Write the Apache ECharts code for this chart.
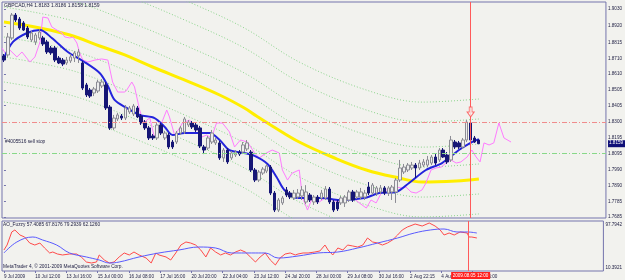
<!DOCTYPE html>
<html><head><meta charset="utf-8">
<script src="https://cdn.jsdelivr.net/npm/echarts@6/dist/echarts.min.js"></script>
<style>html,body{margin:0;padding:0;background:#f2f2ee}#c{width:625px;height:280px}</style>
</head><body><div id="c"></div>
<script>
// ---------- DATA ----------
const symbolName = 'GBPCAD,H4';
// [open, close, low, high]
const candles = [
[1.8726,1.8700,1.8687,1.8739],[1.8733,1.8849,1.8720,1.8875],[1.8843,1.8991,1.8830,1.9004],[1.8991,1.8959,1.8946,1.9004],
[1.8965,1.8907,1.8894,1.8978],[1.8940,1.8894,1.8888,1.8952],[1.8907,1.8849,1.8836,1.8920],[1.8830,1.8875,1.8817,1.8888],
[1.8817,1.8862,1.8797,1.8875],[1.8843,1.8881,1.8830,1.8901],[1.8843,1.8804,1.8791,1.8856],[1.8817,1.8752,1.8739,1.8830],
[1.8778,1.8746,1.8733,1.8791],[1.8778,1.8700,1.8687,1.8791],[1.8713,1.8681,1.8674,1.8726],[1.8700,1.8674,1.8661,1.8713],
[1.8681,1.8700,1.8668,1.8720],[1.8694,1.8720,1.8681,1.8739],[1.8713,1.8746,1.8687,1.8758],[1.8726,1.8752,1.8681,1.8771],
[1.8681,1.8519,1.8506,1.8694],[1.8539,1.8474,1.8461,1.8552],[1.8506,1.8467,1.8455,1.8519],[1.8487,1.8513,1.8467,1.8526],
[1.8500,1.8558,1.8487,1.8571],[1.8532,1.8558,1.8519,1.8577],[1.8539,1.8390,1.8377,1.8558],[1.8396,1.8261,1.8248,1.8409],
[1.8261,1.8325,1.8248,1.8345],[1.8319,1.8345,1.8306,1.8358],[1.8338,1.8325,1.8312,1.8351],[1.8325,1.8390,1.8312,1.8409],
[1.8364,1.8390,1.8351,1.8403],[1.8351,1.8403,1.8338,1.8416],[1.8390,1.8332,1.8325,1.8403],[1.8338,1.8293,1.8280,1.8351],
[1.8299,1.8261,1.8248,1.8312],[1.8261,1.8196,1.8183,1.8274],[1.8209,1.8196,1.8183,1.8222],[1.8196,1.8280,1.8183,1.8293],
[1.8280,1.8228,1.8215,1.8293],[1.8196,1.8228,1.8183,1.8241],[1.8215,1.8138,1.8125,1.8228],[1.8170,1.8138,1.8125,1.8183],
[1.8170,1.8228,1.8157,1.8241],[1.8228,1.8261,1.8215,1.8274],[1.8235,1.8319,1.8222,1.8332],[1.8280,1.8299,1.8267,1.8312],
[1.8293,1.8267,1.8254,1.8306],[1.8280,1.8248,1.8235,1.8293],[1.8261,1.8144,1.8131,1.8274],[1.8138,1.8118,1.8092,1.8151],
[1.8131,1.8196,1.8118,1.8209],[1.8170,1.8228,1.8157,1.8248],[1.8164,1.8183,1.8151,1.8196],[1.8164,1.8067,1.8054,1.8177],
[1.8067,1.8118,1.8041,1.8131],[1.8118,1.8041,1.8028,1.8131],[1.8067,1.8099,1.8054,1.8112],[1.8086,1.8105,1.8073,1.8118],
[1.8105,1.8092,1.8080,1.8118],[1.8105,1.8151,1.8092,1.8170],[1.8125,1.8164,1.8112,1.8183],[1.8105,1.7989,1.7976,1.8118],
[1.7989,1.7924,1.7911,1.8002],[1.7924,1.7976,1.7911,1.7989],[1.7969,1.7995,1.7957,1.8008],[1.7982,1.8015,1.7969,1.8028],
[1.8008,1.7840,1.7827,1.8021],[1.7840,1.7730,1.7717,1.7853],[1.7730,1.7795,1.7717,1.7808],[1.7776,1.7808,1.7763,1.7821],
[1.7860,1.7827,1.7814,1.7879],[1.7840,1.7814,1.7801,1.7853],[1.7808,1.7840,1.7795,1.7860],[1.7814,1.7840,1.7801,1.7866],
[1.7821,1.7860,1.7795,1.7885],[1.7782,1.7847,1.7769,1.7891],[1.7827,1.7795,1.7782,1.7840],[1.7782,1.7814,1.7763,1.7827],
[1.7814,1.7782,1.7769,1.7827],[1.7808,1.7840,1.7795,1.7860],[1.7808,1.7866,1.7795,1.7885],[1.7866,1.7782,1.7769,1.7879],
[1.7782,1.7730,1.7717,1.7795],[1.7782,1.7737,1.7724,1.7795],[1.7776,1.7808,1.7763,1.7821],[1.7776,1.7814,1.7750,1.7827],
[1.7795,1.7847,1.7782,1.7860],[1.7847,1.7795,1.7782,1.7860],[1.7814,1.7847,1.7801,1.7860],[1.7814,1.7847,1.7801,1.7873],
[1.7814,1.7840,1.7795,1.7860],[1.7879,1.7840,1.7827,1.7911],[1.7840,1.7892,1.7827,1.7905],[1.7840,1.7873,1.7821,1.7885],
[1.7847,1.7873,1.7834,1.7892],[1.7873,1.7840,1.7827,1.7885],[1.7840,1.7873,1.7821,1.7885],[1.7847,1.7879,1.7795,1.7892],
[1.7847,1.7924,1.7776,1.7937],[1.7924,1.8002,1.7911,1.8054],[1.7976,1.8008,1.7963,1.8028],[1.7989,1.8021,1.7976,1.8034],
[1.8002,1.8021,1.7989,1.8041],[1.8021,1.8002,1.7937,1.8034],[1.8002,1.8034,1.7989,1.8054],[1.8021,1.8041,1.8008,1.8060],
[1.8021,1.8054,1.8008,1.8080],[1.8034,1.8073,1.8021,1.8086],[1.8073,1.8034,1.8021,1.8092],[1.8054,1.8118,1.8041,1.8131],
[1.8118,1.8073,1.8067,1.8131],[1.8086,1.8041,1.8028,1.8105],[1.8054,1.8183,1.8041,1.8209],[1.8170,1.8138,1.8125,1.8183],
[1.8164,1.8138,1.8125,1.8177],[1.8138,1.8183,1.8125,1.8196],[1.8183,1.8299,1.8170,1.8312],[1.8293,1.8183,1.8170,1.8312],
[1.8196,1.8170,1.8164,1.8209],[1.8183,1.8159,1.8158,1.8186]
];
const timeLabels = ['9 Jul 2009','10 Jul 12:00','13 Jul 16:00','15 Jul 00:00','16 Jul 08:00','17 Jul 16:00','20 Jul 20:00',
  '22 Jul 04:00','23 Jul 12:00','24 Jul 20:00','28 Jul 00:00','29 Jul 08:00','30 Jul 16:00','2 Aug 22:15','4 Aug 08:00','5 Aug 16:00'];
const timeLabelStep = 8;
const markedBarIndex = 119;
const markedBarTime = '2009.08.05 12:00';
const priceTicks = [1.9030,1.8920,1.8815,1.8710,1.8610,1.8505,1.8405,1.8300,1.8195,1.8095,1.7990,1.7890,1.7785,1.7685];
const subTicks = [10.3921, 97.7942];
// overlay lines: [bar index, value]
const yellowMA = [[0,1.8946],[9.2,1.8907],[16.8,1.8862],[24.4,1.8791],[30.8,1.8733],[37.9,1.8655],[46.6,1.8565],[55.0,1.8474],
  [61.3,1.8390],[64.4,1.8338],[68.4,1.8274],[75.3,1.8170],[83.7,1.8073],[92.4,1.7989],[100.8,1.7937],[106.6,1.7911],[115.3,1.7918],[121.1,1.7931]];
// green dotted envelope lines, each read at a few bars
const envUp1 = [[0,1.9043],[16.8,1.8959],[30.8,1.8830],[46.6,1.8662],[61.3,1.8487],[75.3,1.8267],[92.4,1.8086],[106.6,1.8008],[121.1,1.8028]];
const envUp2 = [[0,1.9172],[16.8,1.9088],[30.8,1.8959],[46.6,1.8791],[61.3,1.8616],[75.3,1.8396],[92.4,1.8215],[106.6,1.8137],[121.1,1.8157]];
const envUp3 = [[0,1.9334],[16.8,1.9250],[30.8,1.9121],[46.6,1.8953],[61.3,1.8778],[75.3,1.8558],[92.4,1.8377],[106.6,1.8299],[121.1,1.8319]];
const envUp4 = [[0,1.9463],[16.8,1.9379],[30.8,1.9250],[46.6,1.9082],[61.3,1.8907],[75.3,1.8687],[92.4,1.8506],[106.6,1.8428],[121.1,1.8448]];
const envDn1 = [[0,1.8849],[16.8,1.8765],[30.8,1.8636],[46.6,1.8468],[61.3,1.8293],[75.3,1.8073],[92.4,1.7892],[106.6,1.7814],[121.1,1.7834]];
const envDn2 = [[0,1.8720],[16.8,1.8636],[30.8,1.8507],[46.6,1.8339],[61.3,1.8164],[75.3,1.7944],[92.4,1.7763],[106.6,1.7685],[121.1,1.7705]];
const envDn3 = [[0,1.8558],[16.8,1.8474],[30.8,1.8345],[46.6,1.8177],[61.3,1.8002],[75.3,1.7782],[92.4,1.7601],[106.6,1.7523],[121.1,1.7543]];
const envDn4 = [[0,1.8429],[16.8,1.8345],[30.8,1.8216],[46.6,1.8048],[61.3,1.7873],[75.3,1.7653],[92.4,1.7472],[106.6,1.7394],[121.1,1.7414]];
const blueMA = [[0,1.8713],[2.3,1.8817],[5.9,1.8875],[9.2,1.8894],[12.2,1.8843],[16.3,1.8752],[20.1,1.8694],[24.4,1.8616],[26.5,1.8532],
  [28.2,1.8442],[31.3,1.8390],[34.6,1.8345],[38.4,1.8325],[41.0,1.8267],[43.0,1.8215],[46.1,1.8228],[49.9,1.8228],[52.4,1.8228],[55.0,1.8183],
  [57.5,1.8118],[61.3,1.8099],[63.9,1.8080],[67.2,1.8028],[69.5,1.7944],[71.5,1.7860],[74.8,1.7808],[81.2,1.7808],[85.5,1.7795],[91.9,1.7808],
  [95.7,1.7840],[100.0,1.7847],[103.3,1.7905],[107.6,1.7989],[111.7,1.8034],[116.0,1.8118],[119.3,1.8170],[121.1,1.8189]];
const pinkLine = [[-0.5,1.8778],[0.3,1.8746],[1.5,1.8765],[3.3,1.8720],[4.6,1.8752],[6.6,1.8687],[7.9,1.8720],[9.2,1.8817],[9.9,1.8978],
  [11.2,1.8972],[12.2,1.8914],[13.5,1.8894],[14.8,1.8875],[15.5,1.8849],[16.8,1.8843],[17.6,1.8849],[18.6,1.8810],[19.3,1.8746],[20.1,1.8700],
  [21.4,1.8687],[23.2,1.8700],[24.9,1.8707],[26.5,1.8700],[27.7,1.8558],[29.0,1.8493],[30.8,1.8493],[31.3,1.8506],[32.6,1.8558],[33.3,1.8526],
  [34.6,1.8377],[35.9,1.8267],[36.4,1.8312],[37.2,1.8325],[38.4,1.8196],[39.7,1.8267],[40.5,1.8312],[41.5,1.8377],[42.2,1.8332],[43.5,1.8215],
  [44.8,1.8261],[45.5,1.8293],[47.3,1.8312],[49.1,1.8261],[50.4,1.8202],[51.7,1.8215],[52.9,1.8196],[54.2,1.8293],[55.7,1.8293],[57.5,1.8235],
  [58.8,1.8138],[60.3,1.8183],[62.1,1.8170],[63.9,1.8099],[65.1,1.8067],[66.9,1.8099],[68.4,1.8118],[70.2,1.8099],[71.0,1.7989],[72.3,1.7924],
  [73.5,1.7969],[75.3,1.7989],[76.1,1.7814],[77.4,1.7730],[78.6,1.7808],[80.4,1.7782],[82.2,1.7814],[83.7,1.7795],[85.5,1.7782],[87.3,1.7795],
  [88.8,1.7814],[90.6,1.7776],[92.4,1.7743],[93.6,1.7795],[94.9,1.7776],[96.2,1.7840],[97.5,1.7860],[98.7,1.7847],[100.0,1.7879],[101.3,1.7873],
  [102.5,1.7879],[103.8,1.7847],[105.1,1.7840],[106.6,1.7860],[107.6,1.7905],[108.9,1.7989],[110.2,1.8002],[111.5,1.8008],[112.7,1.8034],
  [114.0,1.8054],[115.3,1.8034],[116.5,1.8041],[118.1,1.8073],[119.3,1.8118],[120.4,1.8073],[121.4,1.8041],[122.4,1.8164],[123.7,1.8151],
  [124.9,1.8164],[126.2,1.8293],[127.5,1.8196],[129.3,1.8170]];
const aoRed = [[0,47.1],[0.8,55.8],[2.0,78.6],[2.8,82.1],[4.1,73.3],[5.3,69.8],[6.6,59.3],[7.9,55.8],[9.2,59.3],[10.4,50.6],[11.7,41.9],
  [12.5,43.6],[13.7,40.1],[15.0,38.4],[16.8,40.1],[18.6,40.1],[19.8,34.9],[21.1,26.1],[22.4,24.4],[23.7,26.1],[24.4,38.4],[25.7,29.6],
  [27.0,24.4],[28.2,26.1],[29.5,34.9],[30.8,41.9],[32.1,38.4],[33.3,43.6],[34.6,38.4],[36.4,33.1],[37.7,24.4],[38.9,41.9],[39.7,38.4],
  [41.5,34.9],[42.7,29.6],[44.0,41.9],[45.3,55.8],[46.6,61.1],[47.8,59.3],[49.1,55.8],[50.4,47.1],[51.7,34.9],[52.9,50.6],[54.2,43.6],
  [55.5,38.4],[56.7,41.9],[58.0,38.4],[59.3,43.6],[60.6,47.1],[61.8,43.6],[63.1,34.9],[64.4,26.1],[65.6,34.9],[66.9,41.9],[68.2,29.6],
  [69.5,20.9],[70.7,33.1],[72.0,40.1],[73.3,41.9],[74.6,38.4],[75.3,40.1],[76.6,41.9],[77.9,41.9],[79.6,43.6],[80.9,45.4],[82.2,55.8],
  [83.0,47.1],[84.2,38.4],[85.5,50.6],[86.8,47.1],[88.0,55.8],[89.3,54.1],[90.6,52.3],[91.9,55.8],[93.1,68.1],[94.4,61.1],[95.7,59.3],
  [96.9,55.8],[98.2,59.3],[99.5,64.6],[100.8,73.3],[102.0,82.1],[103.3,87.3],[105.3,92.5],[107.1,89.0],[108.9,94.3],[110.4,89.0],
  [111.7,82.1],[112.7,73.3],[114.0,76.8],[115.3,73.3],[116.8,78.6],[118.6,76.8],[119.1,69.8],[119.8,69.8],[121.1,68.1]];
const aoBlue = [[0,41.9],[3.3,61.1],[7.4,69.8],[9.9,64.6],[13.5,55.8],[16.8,41.9],[21.1,34.9],[24.4,29.6],[27.0,24.4],[29.5,26.1],
  [34.6,34.9],[39.7,41.9],[44.8,47.1],[49.9,52.3],[54.2,50.6],[58.3,41.9],[63.4,41.9],[66.9,41.9],[70.2,33.1],[75.3,36.6],[80.4,41.9],
  [85.5,43.6],[90.6,50.6],[95.7,59.3],[100.8,68.1],[105.1,76.8],[109.2,82.1],[112.7,83.8],[116.0,78.6],[118.6,78.6],[121.1,76.8]];
const stopLossLevel = 1.8328;
const orderLevel = 1.8144;
const orderLabel = '#4005516 sell stop';
const arrowLevel = 1.8364;
const aoTitle = 'AO_Fuzzy 57.4085 67.8176 79.2939 62.1260';
const copyright = 'MetaTrader 4, \u00a9 2001-2009 MetaQuotes Software Corp.';

// ---------- CHART ----------
const N = 154;
const cats = Array.from({length: N}, (_, i) => String(i));
const FONT = "'Liberation Sans Narrow','Liberation Sans',Arial,sans-serif";
const AXIS = '#7474ac';
const TXT = '#1c1c40';
const isLabel = (i) => i % timeLabelStep === 0 && (i / timeLabelStep) < timeLabels.length;
const last = candles[candles.length - 1];
const chart = echarts.init(document.getElementById('c'));
const lineS = (data, color, width, xi, yi, smooth, type) => ({type: 'line', data, xAxisIndex: xi, yAxisIndex: yi, symbol: 'none',
  smooth: smooth || false, lineStyle: {color, width, type: type || 'solid'}, silent: true, z: 3});
const envs = [envUp1, envUp2, envUp3, envUp4, envDn1, envDn2, envDn3, envDn4]
  .map(b => Object.assign(lineS(b, '#8bd48b', 1, 2, 0, 0.35, [1, 2]), {z: 2}));
chart.setOption({
  backgroundColor: '#f2f2ee',
  animation: false,
  grid: [
    {left: 2, right: 18, top: 2, height: 216, show: true, borderColor: AXIS, borderWidth: 1},
    {left: 2, right: 18, top: 221, height: 50, show: true, borderColor: AXIS, borderWidth: 1}
  ],
  xAxis: [
    {type: 'category', gridIndex: 0, data: cats, show: false},
    {type: 'category', gridIndex: 1, data: cats, axisLine: {show: false},
      axisTick: {show: true, interval: (i) => isLabel(i), alignWithLabel: true, length: 2, lineStyle: {color: AXIS}},
      axisLabel: {interval: (i) => isLabel(i), formatter: (v, i) => timeLabels[i / timeLabelStep] || '', align: 'left',
        fontSize: 4.6, color: TXT, margin: 3, fontFamily: FONT}},
    {type: 'value', gridIndex: 0, min: -0.5, max: N - 0.5, show: false},
    {type: 'value', gridIndex: 1, min: -0.5, max: N - 0.5, show: false}
  ],
  yAxis: [
    {type: 'value', gridIndex: 0, position: 'right', min: 1.76786, max: 1.90753, axisLine: {show: false}, splitLine: {show: false},
      axisTick: {show: true, customValues: priceTicks, length: 2, lineStyle: {color: AXIS}},
      axisLabel: {customValues: priceTicks, formatter: (v) => v.toFixed(4), fontSize: 4.6, color: TXT, margin: 2, fontFamily: FONT}},
    {type: 'value', gridIndex: 1, position: 'right', min: subTicks[0], max: subTicks[1], axisLine: {show: false}, splitLine: {show: false},
      axisTick: {show: false},
      axisLabel: {customValues: subTicks, margin: 2, fontSize: 4.6, color: TXT, fontFamily: FONT,
        formatter: (v) => (v > 50 ? '{t|' : '{b|') + v.toFixed(4) + '}',
        rich: {t: {padding: [7, 0, 0, 0], fontSize: 4.6, fontFamily: FONT, color: TXT}, b: {padding: [0, 0, 6, 0], fontSize: 4.6, fontFamily: FONT, color: TXT}}}}
  ],
  series: [
    ...envs,
    lineS(yellowMA, '#ffee00', 3, 2, 0, 0.4),
    {type: 'candlestick', xAxisIndex: 0, yAxisIndex: 0, data: candles, barWidth: 3, z: 4,
      itemStyle: {color: '#eeeeee', color0: '#161676', borderColor: '#8c8c94', borderColor0: '#161676', borderWidth: 1},
      markLine: {symbol: 'none', silent: true, label: {show: false}, animation: false,
        data: [
          {yAxis: stopLossLevel, lineStyle: {color: '#f08c8c', type: [5, 2, 1, 2], width: 1}},
          {yAxis: orderLevel, lineStyle: {color: '#88d888', type: [5, 2, 1, 2], width: 1}},
          {xAxis: String(markedBarIndex), lineStyle: {color: '#ff5a5a', type: 'solid', width: 1}}
        ]}},
    lineS(pinkLine, '#ff7cff', 1, 2, 0),
    lineS(blueMA, '#2424dc', 2, 2, 0, 0.3),
    {type: 'scatter', xAxisIndex: 0, yAxisIndex: 0, data: [[String(markedBarIndex), arrowLevel]], z: 6, silent: true,
      symbol: 'path://M3,0 L7,0 L7,6 L10,6 L5,12 L0,6 L3,6 Z', symbolSize: [7, 10],
      itemStyle: {color: '#f6f6f2', borderColor: '#ff4a4a', borderWidth: 1}},
    Object.assign(lineS(aoRed, '#ff4a4a', 1, 3, 1), {markLine: {symbol: 'none', silent: true, label: {show: false},
      data: [{xAxis: markedBarIndex, lineStyle: {color: '#ff5a5a', type: 'solid', width: 1}}]}}),
    lineS(aoBlue, '#5a5aff', 1, 3, 1, 0.4)
  ]
});
const bx = chart.convertToPixel({xAxisIndex: 2}, markedBarIndex);
const py = chart.convertToPixel({yAxisIndex: 0}, last[1]);
const oy = chart.convertToPixel({yAxisIndex: 0}, orderLevel);
const title = symbolName + ' ' + [last[0], last[3], last[2], last[1]].map(v => v.toFixed(4)).join(' ');
const txt = (x, y, text, size, fill) => ({type: 'text', x, y, silent: true, z: 20,
  style: {text, fontSize: size, fontFamily: FONT, fill: fill || TXT, textVerticalAlign: 'top'}});
chart.setOption({graphic: [
  txt(4, 3, title, 5),
  txt(5, oy - 7, orderLabel, 4.8),
  txt(3, 222, aoTitle, 4.8),
  txt(3, 264, copyright, 4.8),
  {type: 'rect', x: 608, y: py - 3.5, shape: {width: 17, height: 7}, style: {fill: '#101078'}, z: 20, silent: true},
  txt(609, py - 3, last[1].toFixed(4), 4.6, '#ffffff'),
  {type: 'rect', x: bx - 19.5, y: 272, shape: {width: 39, height: 7}, style: {fill: '#ff2020'}, z: 20, silent: true},
  txt(bx - 18, 272.8, markedBarTime, 4.6, '#ffffff')
]});
</script></body></html>
